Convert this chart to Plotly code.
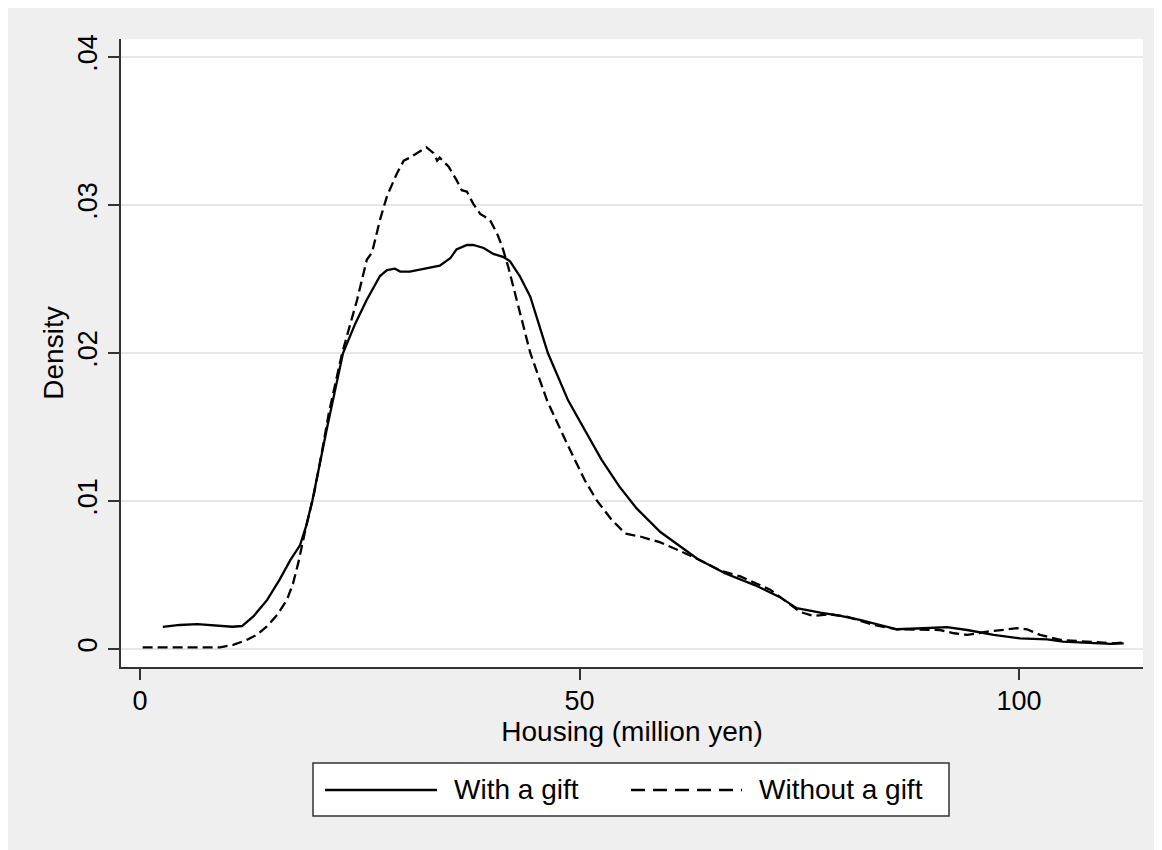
import plotly.graph_objects as go

# ---- data ----
gift_x = [2.6, 4.5, 6.5, 8.5, 10.5, 11.6, 12.9, 14.45, 15.9, 17.1, 18.2, 18.9, 19.6, 21.3, 23.1,
          24.5, 25.8, 27.3, 28.1, 29.0, 29.6, 30.7, 32.6, 34.1, 35.3, 36.0, 37.2, 37.9, 39.1,
          40.2, 41.3, 42.1, 43.2, 44.4, 46.4, 48.7, 50.6, 52.5, 54.5, 56.5, 59.2, 61.5, 63.4,
          66.6, 70.0, 72.8, 74.7, 77.4, 79.7, 81.9, 84.2, 86.1, 89.1, 91.8, 94.1, 97.1, 100.1,
          103.2, 105.0, 107.7, 110.4, 111.9]
gift_y = [0.00149, 0.00162, 0.00168, 0.00158, 0.00150, 0.00155, 0.0022, 0.0033, 0.0047, 0.0060,
          0.0070, 0.0083, 0.0100, 0.0150, 0.0200, 0.0220, 0.0236, 0.0252, 0.0256, 0.0257,
          0.0255, 0.0255, 0.0257, 0.0259, 0.0264, 0.0270, 0.0273, 0.0273, 0.0271, 0.0267,
          0.0265, 0.0262, 0.0252, 0.0238, 0.0200, 0.0168, 0.0148, 0.0128, 0.0110, 0.0095,
          0.0079, 0.0069, 0.0061, 0.0051, 0.0043, 0.0035, 0.00275, 0.00245, 0.00223, 0.00196,
          0.00162, 0.00133, 0.00140, 0.00147, 0.00128, 0.00095, 0.00072, 0.00065, 0.00049,
          0.00043, 0.00034, 0.00038]

nogift_x = [0.3, 3.0, 6.0, 9.1, 10.6, 12.1, 13.3, 14.4, 15.6, 16.7, 17.4, 18.0, 18.8, 19.8,
            20.6, 21.5, 23.0, 24.0, 24.7, 25.8, 26.4, 27.3, 28.1, 29.2, 30.0, 30.7, 31.7,
            32.6, 33.4, 33.8, 34.1, 35.1, 36.0, 36.6, 37.2, 37.9, 38.7, 39.8, 40.6, 41.2,
            41.9, 42.7, 44.4, 46.3, 48.4, 50.6, 52.0, 53.7, 55.2, 56.9, 59.2, 61.5, 63.7,
            66.0, 68.3, 71.7, 74.0, 75.1, 76.6, 78.5, 80.4, 83.5, 86.1, 89.1, 91.0, 92.6,
            94.1, 96.4, 99.8, 100.9, 102.4, 104.7, 107.3, 109.2, 110.7, 111.9]
nogift_y = [0.0001, 0.0001, 0.00015, 0.00011, 0.00027, 0.0006, 0.00095, 0.0015, 0.0023,
            0.0033, 0.0044, 0.0058, 0.0080, 0.0105, 0.0130, 0.0160, 0.0200, 0.0222, 0.0236,
            0.0263, 0.0268, 0.0290, 0.0306, 0.0321, 0.0330, 0.0332, 0.0336, 0.0339, 0.0335,
            0.0330, 0.0332, 0.0326, 0.0317, 0.0310, 0.0309, 0.0301, 0.0294, 0.0290, 0.0281,
            0.0272, 0.0258, 0.0240, 0.0200, 0.0168, 0.0141, 0.0114, 0.0100, 0.0087, 0.0078,
            0.0076, 0.0072, 0.0066, 0.0060, 0.0053, 0.0049, 0.0040, 0.0030, 0.0025, 0.00223,
            0.00234, 0.00218, 0.00162, 0.00133, 0.00128, 0.00128, 0.00106, 0.00095, 0.00117,
            0.0014, 0.00133, 0.00095, 0.00061, 0.00049, 0.00043, 0.00038, 0.00043]

y_ticks = [0, 0.01, 0.02, 0.03, 0.04]
y_ticktext = ["0", ".01", ".02", ".03", ".04"]
x_ticks = [0, 50, 100]
x_ticktext = ["0", "50", "100"]
series_names = ["With a gift", "Without a gift"]

FONT = "Liberation Sans, Arial, sans-serif"
OFF = 8                      # page body margin
W, H = 1162, 850             # figure overflows the window slightly so gray reaches the edges
# plot area in page pixels
L, R, T, B = 121, 1143, 39, 667
PW, PH = R - L, B - T


def px(x):
    return (x - L) / PW


def py(y):
    return (B - y) / PH


fig = go.Figure()
fig.add_trace(go.Scatter(x=gift_x, y=gift_y, mode="lines", name=series_names[0],
                         line=dict(color="black", width=2.3), showlegend=False))
fig.add_trace(go.Scatter(x=nogift_x, y=nogift_y, mode="lines", name=series_names[1],
                         line=dict(color="black", width=2.3, dash="10px,5px"), showlegend=False))

shapes = [
    dict(type="rect", xref="paper", yref="paper", x0=px(313), x1=px(949), y0=py(816), y1=py(763),
         fillcolor="white", line=dict(color="#333333", width=1.5)),
    dict(type="line", xref="paper", yref="paper", x0=px(325), x1=px(437), y0=py(790), y1=py(790),
         line=dict(color="black", width=2.3)),
    dict(type="line", xref="paper", yref="paper", x0=px(631), x1=px(742), y0=py(790), y1=py(790),
         line=dict(color="black", width=2.3, dash="14px,8px")),
]
annotations = [
    dict(xref="paper", yref="paper", x=px(452), y=py(790), text=series_names[0], showarrow=False,
         xanchor="left", yanchor="middle", font=dict(family=FONT, size=28, color="black")),
    dict(xref="paper", yref="paper", x=px(757), y=py(790), text=series_names[1], showarrow=False,
         xanchor="left", yanchor="middle", font=dict(family=FONT, size=28, color="black")),
]

fig.update_layout(
    width=W, height=H,
    margin=dict(l=L - OFF, r=W + OFF - R, t=T - OFF, b=H + OFF - B, pad=0),
    paper_bgcolor="#efefef",
    plot_bgcolor="white",
    font=dict(family=FONT, size=28, color="black"),
    shapes=shapes,
    annotations=annotations,
    showlegend=False,
)
fig.update_xaxes(
    range=[-2.16, 114.1], tickvals=x_ticks, ticktext=x_ticktext,
    ticks="outside", ticklen=11, tickwidth=1.5, tickcolor="#333333",
    showline=True, linecolor="#333333", linewidth=1.5, showgrid=False, zeroline=False,
    tickfont=dict(size=27), automargin=False, ticklabelstandoff=-2,
    title=dict(text="Housing (million yen)", font=dict(size=28), standoff=2),
)
fig.update_yaxes(
    range=[-0.00122, 0.04122], tickvals=y_ticks, ticktext=y_ticktext, tickangle=-90,
    ticks="outside", ticklen=11, tickwidth=1.5, tickcolor="#333333",
    showline=True, linecolor="#333333", linewidth=1.5, showgrid=True, gridcolor="#e6e6e6",
    gridwidth=2, zeroline=False, tickfont=dict(size=27), automargin=False,
    title=dict(text="Density", font=dict(size=28), standoff=2),
)

fig.write_html("out.html")
